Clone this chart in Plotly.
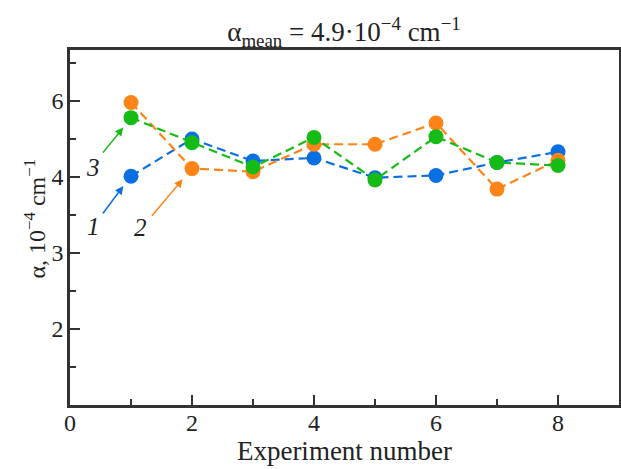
import plotly.graph_objects as go

experiments = [1, 2, 3, 4, 5, 6, 7, 8]
series1 = [4.01, 4.50, 4.21, 4.25, 3.99, 4.02, 4.19, 4.33]
series2 = [4.98, 4.11, 4.07, 4.43, 4.43, 4.71, 3.84, 4.22]
series3 = [4.78, 4.45, 4.13, 4.52, 3.96, 4.53, 4.19, 4.15]

x_ticks = [0, 2, 4, 6, 8]
y_tickvals = [2, 3, 4, 5]
y_ticktext = ["2", "3", "4", "6"]

colors = {"1": "#0a6fe3", "2": "#ff8418", "3": "#16bb16"}
FONT = "Liberation Serif"
TXT = "#222"

fig = go.Figure()
for name, ys in [("1", series1), ("2", series2), ("3", series3)]:
    fig.add_trace(go.Scatter(
        x=experiments, y=ys, mode="lines+markers", name=name,
        line=dict(color=colors[name], width=2.2, dash="9px,5px"),
        marker=dict(color=colors[name], size=15),
        showlegend=False,
    ))

# arrows pointing to the first points: (tail x, tail y, head x, head y, label x, label y)
arrows = {
    "3": (0.52, 4.30, 0.874, 4.65, 0.38, 4.12),
    "1": (0.52, 3.50, 0.874, 3.88, 0.38, 3.35),
    "2": (1.323, 3.47, 1.848, 3.97, 1.16, 3.33),
}
for name, (tx, ty, hx, hy, lx, ly) in arrows.items():
    fig.add_annotation(
        x=hx, y=hy, ax=tx, ay=ty, xref="x", yref="y", axref="x", ayref="y",
        showarrow=True, arrowhead=2, arrowsize=1.1, arrowwidth=1.5,
        arrowcolor=colors[name], text="",
    )
    fig.add_annotation(
        x=lx, y=ly, xref="x", yref="y", text="<i>" + name + "</i>",
        showarrow=False, font=dict(family=FONT, size=25, color=TXT),
    )

# y-axis title placed as a rotated annotation
fig.add_annotation(
    x=-0.064, y=0.525, xref="paper", yref="paper", textangle=-90,
    text="α, 10<sup>−4</sup> cm<sup>−1</sup>", showarrow=False,
    xanchor="center", yanchor="middle",
    font=dict(family=FONT, size=24, color=TXT),
)

fig.update_layout(
    width=621, height=469,
    margin=dict(l=70, r=2, t=50, b=64),
    paper_bgcolor="white", plot_bgcolor="white",
    font=dict(family=FONT, size=23, color=TXT),
    title=dict(
        text="α<sub>mean</sub> = 4.9·10<sup>−4</sup> cm<sup>−1</sup>",
        x=344 / 621, xanchor="center", xref="container",
        y=1 - 32 / 469, yanchor="middle", yref="container",
        font=dict(family=FONT, size=27, color=TXT),
    ),
)
fig.update_xaxes(
    range=[0, 9], tickmode="array", tickvals=x_ticks,
    ticks="inside", ticklen=10, tickwidth=1.5, tickcolor="#333",
    minor=dict(dtick=1, tick0=0, ticks="inside", ticklen=6, tickwidth=1.5, tickcolor="#333"),
    showline=True, linewidth=2.5, linecolor="#333", mirror=True,
    showgrid=False, zeroline=False, automargin=False,
    ticklabelstandoff=-6,
    title=dict(text="Experiment number", standoff=7, font=dict(family=FONT, size=27, color=TXT)),
    tickfont=dict(family=FONT, size=24, color=TXT),
)
fig.update_yaxes(
    range=[1, 5.67], tickmode="array", tickvals=y_tickvals, ticktext=y_ticktext,
    ticks="inside", ticklen=10, tickwidth=1.5, tickcolor="#333",
    minor=dict(dtick=0.5, tick0=1, ticks="inside", ticklen=6, tickwidth=1.5, tickcolor="#333"),
    showline=True, linewidth=2.5, linecolor="#333", mirror=True,
    showgrid=False, zeroline=False, automargin=False,
    ticklabelstandoff=-1,
    tickfont=dict(family=FONT, size=24, color=TXT),
)

fig.write_html("out.html", config={"displayModeBar": False},
               post_script="document.body.style.margin='0';")
